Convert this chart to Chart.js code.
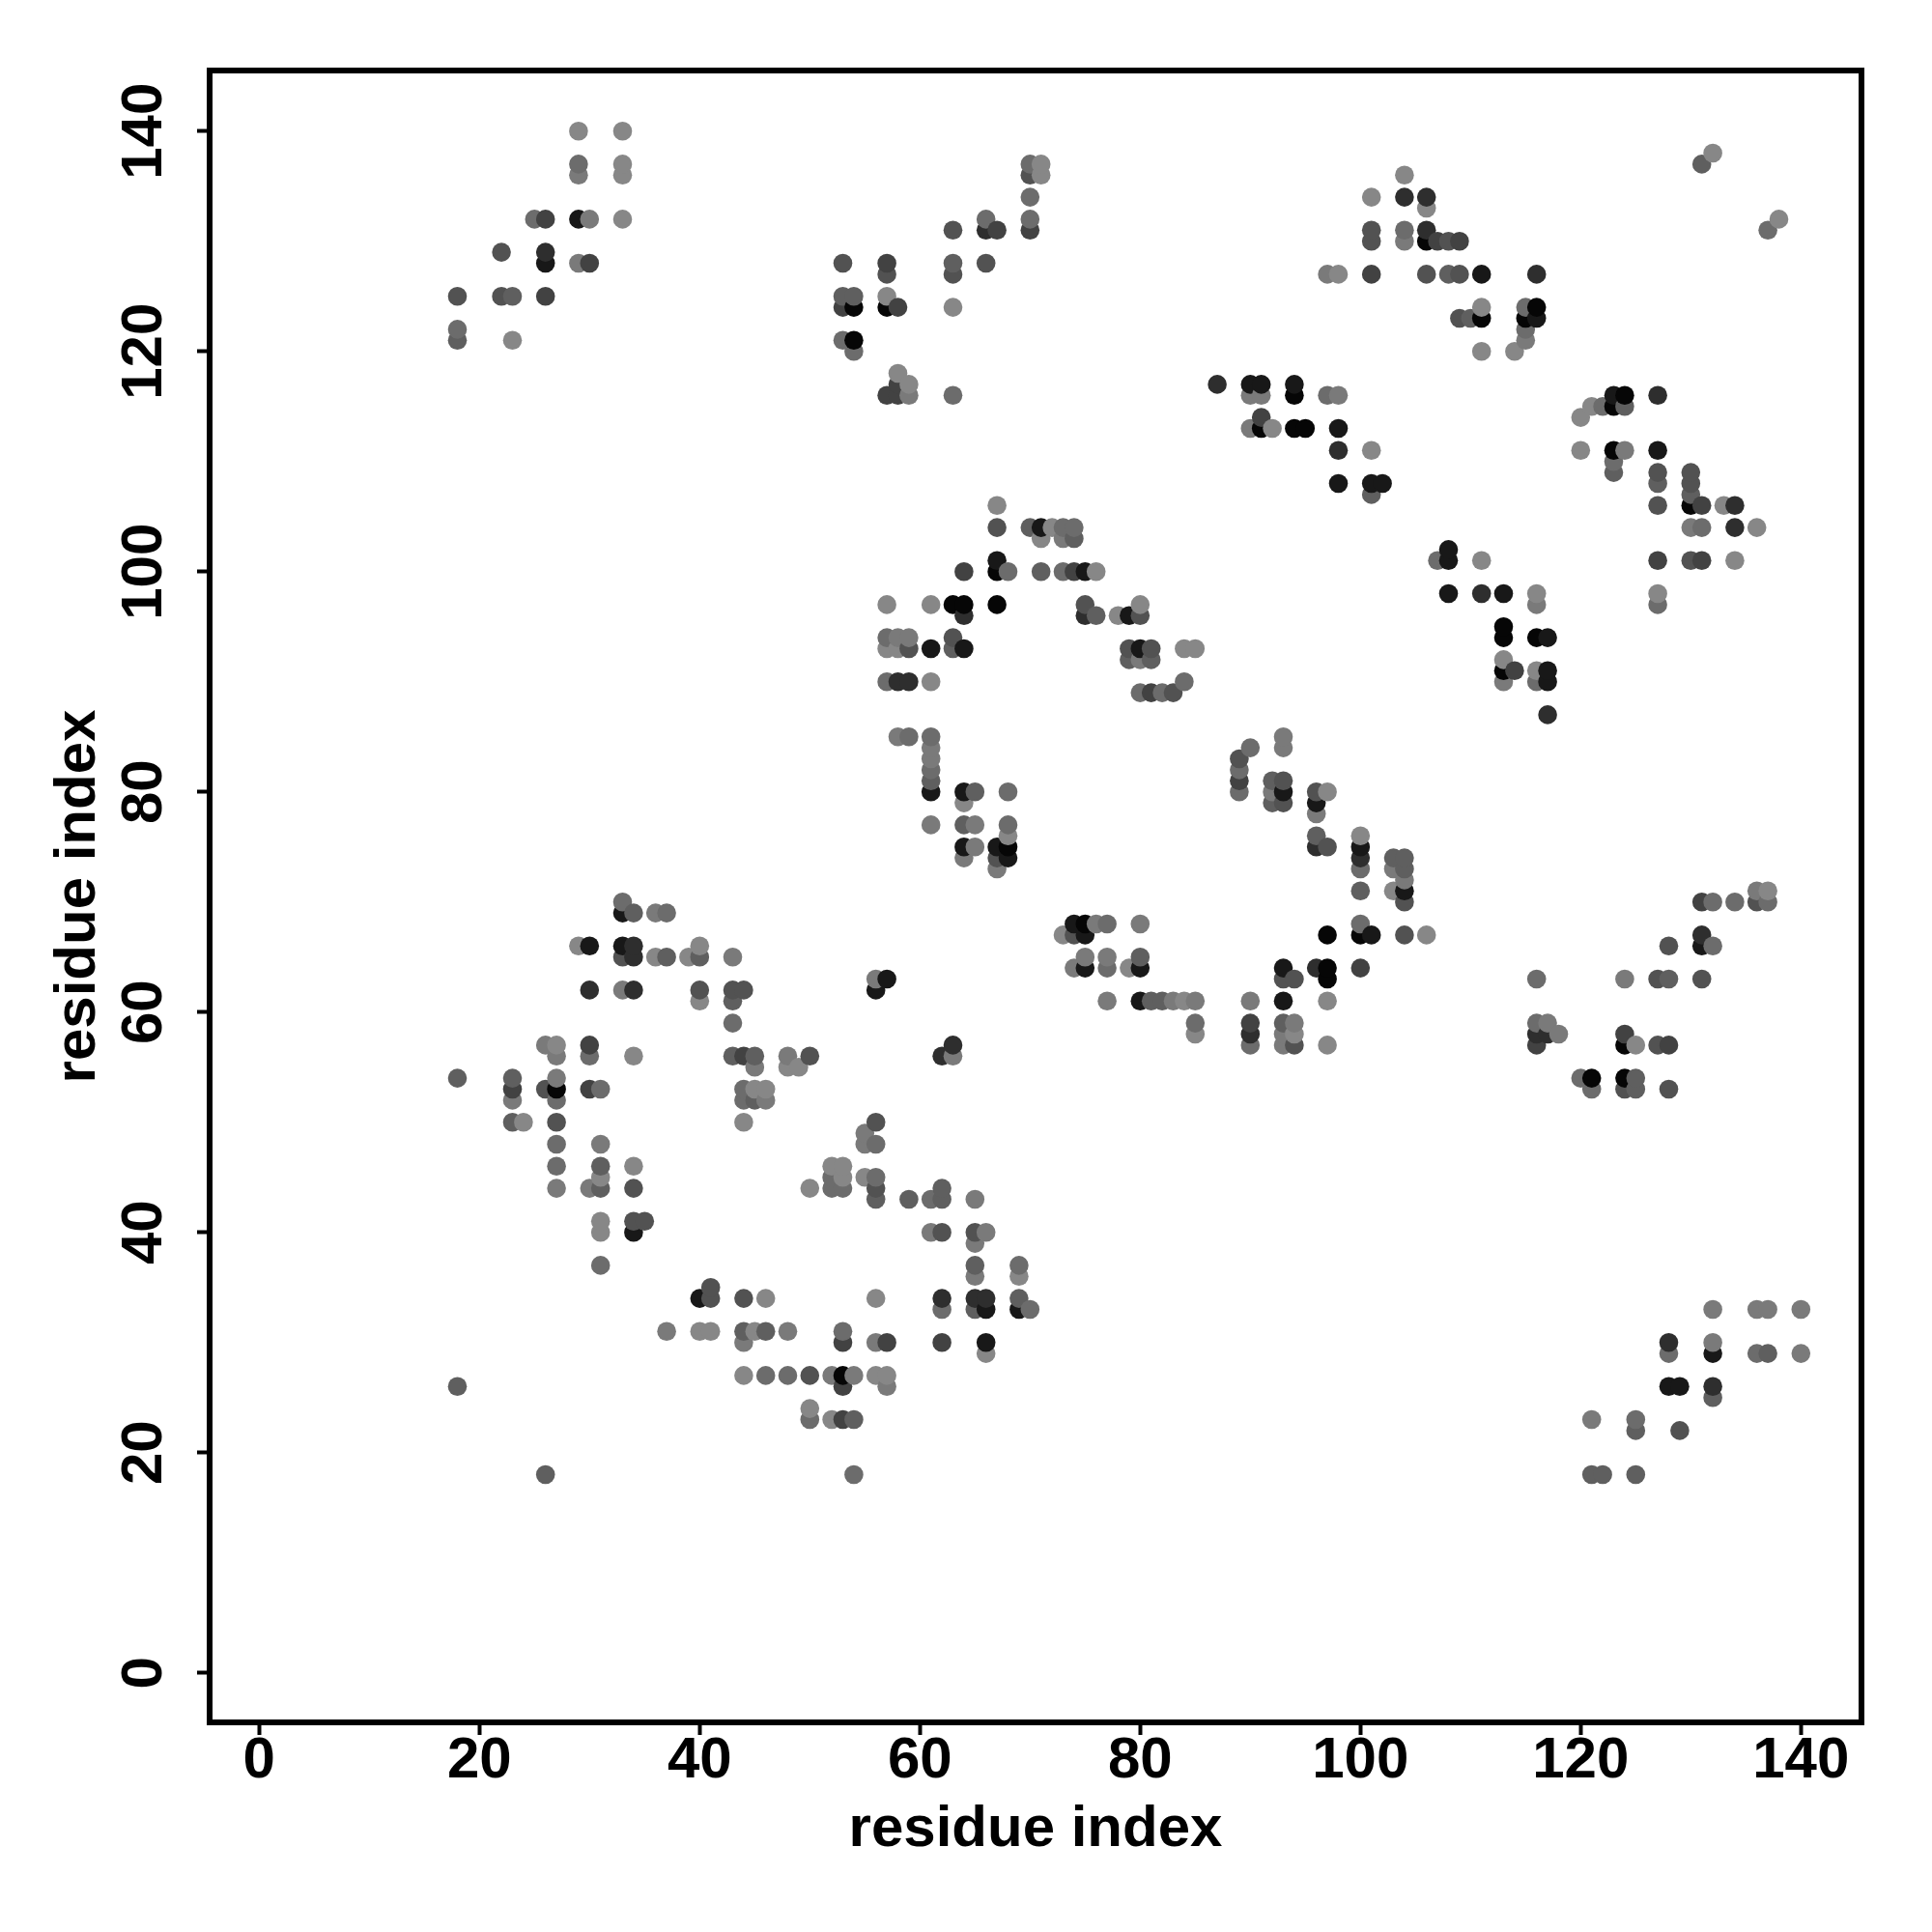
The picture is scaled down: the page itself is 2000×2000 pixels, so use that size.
<!DOCTYPE html>
<html>
<head>
<meta charset="utf-8">
<title>residue contacts</title>
<script src="https://cdn.jsdelivr.net/npm/chart.js@4"></script>
<style>
  html, body { margin: 0; background: #fff; }
  canvas { display: block; }
</style>
</head>
<body>
<canvas id="contacts" width="2000" height="2000"></canvas>
<script>
const axisTicks = [0, 20, 40, 60, 80, 100, 120, 140];
const axisLabel = 'residue index';

// one entry per x residue, y partners ascending (later ones paint on top)
const residueX = [18, 22, 23, 24, 25, 26, 27, 29, 30, 31, 33, 34, 35, 36, 37, 39, 40, 41, 43, 44, 45, 46, 48, 49, 50, 52, 53, 54, 55, 56, 57, 58, 59, 61, 62, 63, 64, 65, 66, 67, 68, 69, 70, 71, 72, 73, 74, 75, 76, 77, 78, 79, 80, 81, 82, 83, 84, 85, 87, 89, 90, 91, 92, 93, 94, 95, 96, 97, 98, 100, 101, 102, 103, 104, 106, 107, 108, 109, 110, 111, 113, 114, 115, 116, 117, 118, 120, 121, 122, 123, 124, 125, 127, 128, 129, 130, 131, 132, 133, 134, 136, 137, 138, 140];
const residueY = [
  [26, 54, 121, 122, 125],
  [125, 129],
  [50, 52, 53, 54, 121, 125],
  [50],
  [132],
  [18, 53, 57, 125, 128, 129, 132],
  [44, 46, 48, 50, 52, 53, 54, 56, 57],
  [66, 128, 132, 136, 137, 140],
  [44, 53, 56, 57, 62, 66, 128, 132],
  [37, 40, 41, 44, 45, 46, 48, 53],
  [62, 65, 66, 69, 70, 132, 136, 137, 140],
  [40, 41, 44, 46, 56, 62, 65, 66, 69],
  [41],
  [65, 69],
  [31, 65, 69],
  [65],
  [31, 34, 61, 62, 65, 66],
  [31, 34, 35],
  [56, 59, 61, 62, 65],
  [27, 30, 31, 34, 50, 52, 53, 56, 62],
  [31, 52, 53, 55, 56],
  [27, 31, 34, 52, 53],
  [27, 31, 55, 56],
  [55],
  [23, 24, 27, 44, 56],
  [23, 27, 44, 45, 46],
  [23, 26, 27, 30, 31, 44, 45, 46, 121, 124, 125, 128],
  [18, 23, 27, 120, 121, 124, 125],
  [45, 48, 49],
  [27, 30, 34, 43, 44, 45, 48, 50, 62, 63],
  [26, 27, 30, 63, 90, 93, 94, 97, 116, 124, 125, 127, 128],
  [85, 90, 93, 94, 116, 117, 118, 124],
  [43, 85, 90, 93, 94, 116, 117],
  [40, 43, 77, 80, 81, 82, 83, 84, 85, 90, 93, 97],
  [30, 33, 34, 40, 43, 44, 56],
  [56, 57, 93, 94, 97, 116, 124, 127, 128, 131],
  [74, 75, 77, 79, 80, 93, 96, 97, 100],
  [33, 34, 36, 37, 39, 40, 43, 75, 77, 80],
  [29, 30, 33, 34, 40, 128, 131, 132],
  [73, 74, 75, 97, 100, 101, 104, 106, 131],
  [74, 75, 76, 77, 80, 100],
  [33, 34, 36, 37],
  [33, 104, 131, 132, 134, 136, 137],
  [100, 103, 104, 136, 137],
  [104],
  [67, 100, 103, 104],
  [64, 67, 68, 100, 103, 104],
  [64, 65, 67, 68, 96, 97, 100],
  [68, 96, 100],
  [61, 64, 65, 68],
  [96],
  [64, 92, 93, 96],
  [61, 64, 65, 68, 89, 92, 93, 96, 97],
  [61, 89, 92, 93],
  [61, 89],
  [61, 89],
  [61, 90, 93],
  [58, 59, 61, 93],
  [117],
  [80, 81, 82, 83],
  [57, 58, 59, 61, 84, 113, 116, 117],
  [113, 114, 116, 117],
  [79, 80, 81, 113],
  [57, 58, 59, 61, 63, 64, 79, 80, 81, 84, 85],
  [57, 58, 59, 63, 113, 116, 117],
  [113],
  [64, 75, 76, 78, 79, 80],
  [57, 61, 63, 64, 67, 75, 80, 116, 127],
  [108, 111, 113, 116, 127],
  [64, 67, 68, 71, 73, 74, 75, 76],
  [67, 107, 108, 111, 127, 130, 131, 134],
  [108],
  [71, 73, 74],
  [67, 70, 71, 72, 73, 74, 130, 131, 134, 136],
  [67, 127, 130, 131, 133, 134],
  [101, 130],
  [98, 101, 102, 127, 130],
  [123, 127, 130],
  [123],
  [98, 101, 120, 123, 124, 127],
  [90, 91, 92, 94, 95, 98],
  [91, 120],
  [121, 122, 123, 124],
  [57, 58, 59, 63, 90, 91, 94, 97, 98, 123, 124, 127],
  [58, 59, 87, 90, 91, 94],
  [58],
  [54, 111, 114],
  [18, 23, 53, 54, 115],
  [18, 115],
  [109, 110, 111, 115, 116],
  [53, 54, 57, 58, 63, 111, 115, 116],
  [18, 22, 23, 53, 54, 57],
  [57, 63, 97, 98, 101, 106, 108, 109, 111, 116],
  [26, 29, 30, 53, 57, 63, 66],
  [22, 26],
  [101, 104, 106, 107, 108, 109],
  [63, 66, 67, 70, 101, 104, 106, 137],
  [25, 26, 29, 30, 33, 66, 70, 138],
  [106],
  [70, 101, 104, 106],
  [29, 33, 70, 71, 104],
  [29, 33, 70, 71, 131],
  [132],
  [29, 33]
];
// contact strength 0 (weak, light) .. 9 (strong, near black), same shape as residueY
const contactStrength = [
  [4, 4, 4, 3, 5],
  [5, 5],
  [4, 2, 6, 4, 1, 4],
  [1],
  [3],
  [4, 5, 2, 6, 8, 7, 6],
  [2, 3, 3, 5, 3, 9, 2, 2, 1],
  [1, 2, 8, 2, 3, 1],
  [2, 6, 3, 6, 7, 8, 6, 2],
  [3, 1, 1, 4, 1, 4, 2, 3],
  [2, 5, 8, 8, 3, 1, 1, 1, 1],
  [8, 5, 5, 1, 1, 7, 7, 7, 4],
  [5],
  [1, 2],
  [2, 4, 3],
  [1],
  [1, 8, 1, 5, 4, 1],
  [1, 5, 5],
  [4, 3, 4, 5, 2],
  [1, 2, 4, 5, 1, 3, 3, 6, 5],
  [1, 4, 1, 2, 4],
  [3, 4, 1, 2, 1],
  [3, 2, 1, 2],
  [1],
  [3, 1, 5, 1, 5],
  [1, 2, 3, 3, 1],
  [6, 6, 9, 6, 3, 3, 1, 1, 3, 6, 4, 5],
  [3, 4, 2, 3, 9, 9, 4],
  [1, 2, 2],
  [1, 2, 1, 4, 5, 3, 3, 5, 8, 2],
  [2, 1, 6, 8, 3, 1, 3, 1, 6, 9, 1, 5, 6],
  [2, 7, 1, 2, 6, 6, 1, 6],
  [4, 3, 7, 5, 2, 2, 1],
  [2, 3, 2, 8, 4, 3, 2, 2, 3, 1, 8, 1],
  [6, 3, 7, 5, 4, 4, 7],
  [2, 7, 4, 5, 9, 3, 1, 5, 4, 5],
  [2, 8, 4, 1, 8, 8, 7, 9, 6],
  [4, 7, 2, 4, 2, 5, 2, 2, 2, 4],
  [1, 8, 8, 7, 2, 5, 7, 3],
  [2, 5, 8, 9, 9, 8, 5, 1, 6],
  [8, 9, 1, 3, 3, 3],
  [8, 4, 1, 3],
  [3, 4, 6, 3, 3, 5, 3],
  [4, 1, 8, 1, 1],
  [1],
  [1, 3, 2, 3],
  [2, 5, 8, 6, 4, 3],
  [8, 2, 8, 9, 7, 5, 8],
  [2, 4, 1],
  [2, 3, 2, 3],
  [1],
  [1, 4, 5, 8],
  [8, 8, 4, 2, 3, 2, 8, 5, 1],
  [4, 6, 4, 5],
  [4, 3],
  [2, 5],
  [1, 3, 1],
  [1, 3, 2, 1],
  [7],
  [3, 6, 3, 5],
  [3, 7, 6, 2, 3, 2, 2, 8],
  [9, 6, 2, 8],
  [4, 2, 4, 1],
  [2, 2, 4, 8, 5, 8, 5, 8, 5, 2, 2],
  [5, 1, 2, 5, 9, 9, 8],
  [9],
  [7, 7, 4, 2, 8, 5],
  [1, 1, 9, 9, 9, 5, 1, 3, 2],
  [8, 7, 8, 2, 1],
  [6, 9, 3, 4, 3, 7, 8, 1],
  [8, 4, 8, 1, 6, 5, 5, 1],
  [8],
  [1, 2, 4],
  [5, 5, 8, 2, 4, 4, 2, 3, 7, 1],
  [1, 5, 9, 7, 1, 7],
  [3, 6],
  [8, 8, 8, 4, 5],
  [5, 5, 6],
  [4],
  [7, 1, 1, 9, 1, 8],
  [2, 9, 1, 9, 9, 8],
  [6, 1],
  [2, 3, 9, 3],
  [6, 7, 3, 3, 3, 1, 9, 2, 1, 8, 9, 7],
  [7, 2, 7, 8, 8, 8],
  [2],
  [3, 1, 1],
  [4, 2, 3, 9, 1],
  [4, 3],
  [4, 3, 9, 9, 8],
  [5, 9, 9, 6, 2, 2, 4, 9],
  [4, 4, 3, 4, 4, 1],
  [5, 5, 3, 1, 6, 5, 4, 5, 8, 7],
  [8, 3, 7, 5, 6, 4, 5],
  [5, 8],
  [5, 2, 9, 4, 5, 5],
  [5, 8, 7, 6, 6, 3, 6, 4],
  [4, 7, 8, 2, 2, 3, 3, 1],
  [1],
  [3, 1, 7, 7],
  [3, 2, 5, 2, 1],
  [4, 2, 3, 1, 3],
  [1],
  [2, 2]
];

// grey level for each strength step
const greyLevels = [140, 135, 122, 108, 95, 82, 66, 46, 24, 6];

const points = [];
const shades = [];
residueX.forEach((x, i) => {
  residueY[i].forEach((y, j) => {
    points.push({ x: x, y: y });
    const g = greyLevels[contactStrength[i][j]];
    shades.push('rgb(' + g + ',' + g + ',' + g + ')');
  });
});

const fontFamily = '"Liberation Sans", Arial, sans-serif';
const boldFont = { family: fontFamily, size: 60, weight: 'bold' };

// R style box round the plot
const frame = {
  id: 'frame',
  afterDatasetsDraw(chart) {
    const { ctx, chartArea: a } = chart;
    ctx.save();
    ctx.strokeStyle = '#000';
    ctx.lineWidth = 6;
    ctx.strokeRect(a.left, a.top, a.right - a.left, a.bottom - a.top);
    ctx.restore();
  }
};

function axisOptions(extra) {
  return Object.assign({
    type: 'linear',
    min: -4.5,
    max: 145.5,
    afterBuildTicks: scale => { scale.ticks = axisTicks.map(v => ({ value: v })); },
    grid: { drawOnChartArea: false, drawTicks: true, tickLength: 13, tickWidth: 4, tickColor: '#000' },
    border: { display: false }
  }, extra);
}

new Chart(document.getElementById('contacts').getContext('2d'), {
  type: 'scatter',
  data: {
    datasets: [{
      data: points,
      pointRadius: 9.8,
      pointHoverRadius: 9.8,
      pointBorderWidth: 0,
      pointBackgroundColor: shades,
      showLine: false
    }]
  },
  options: {
    responsive: false,
    animation: false,
    events: [],
    layout: { padding: { top: 73, right: 73, left: 0, bottom: 0 } },
    plugins: { legend: { display: false }, tooltip: { enabled: false } },
    scales: {
      x: axisOptions({
        afterFit: scale => { scale.height = 217; },
        ticks: { color: '#000', font: boldFont, padding: -9, maxRotation: 0, autoSkip: false },
        title: { display: true, text: axisLabel, color: '#000', font: boldFont, padding: { top: 0, bottom: 70 } }
      }),
      y: axisOptions({
        afterFit: scale => { scale.width = 217; },
        ticks: { color: '#000', font: boldFont, padding: 3, minRotation: 90, maxRotation: 90, crossAlign: 'center', autoSkip: false },
        title: { display: true, text: axisLabel, color: '#000', font: boldFont, padding: { top: 45, bottom: 0 } }
      })
    }
  },
  plugins: [frame]
});
</script>
</body>
</html>
